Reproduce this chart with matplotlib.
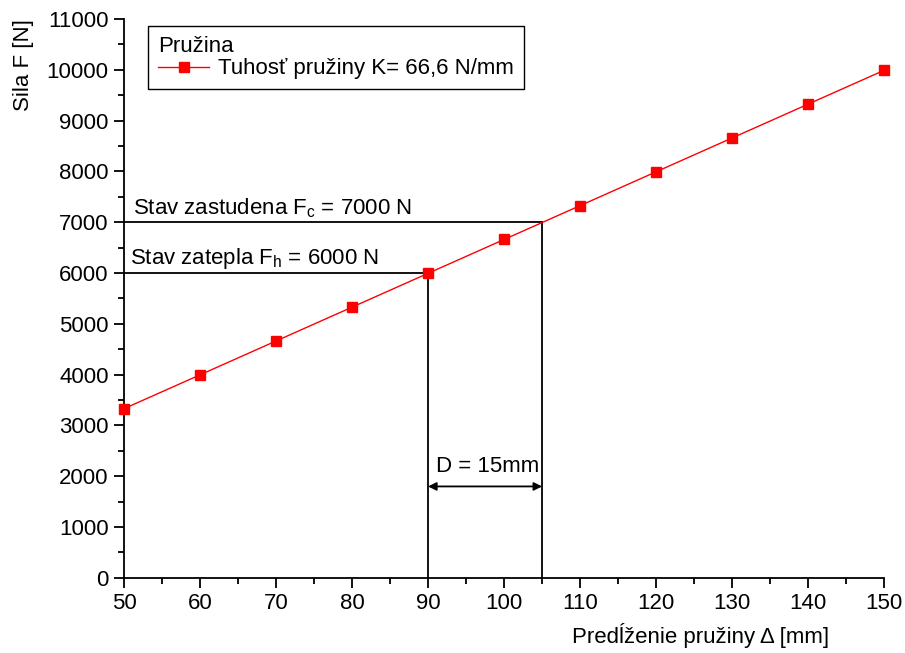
import numpy as np
import matplotlib.pyplot as plt
from matplotlib.ticker import MultipleLocator

plt.rcParams['font.family'] = ['Liberation Sans', 'DejaVu Sans']
plt.rcParams['mathtext.fontset'] = 'custom'
plt.rcParams['mathtext.rm'] = 'Liberation Sans'

# Data
elongation = [50, 60, 70, 80, 90, 100, 110, 120, 130, 140, 150]
force = [3330, 3996, 4662, 5328, 5994, 6660, 7326, 7992, 8658, 9324, 9990]

cold_force = 7000
cold_x = 105
hot_force = 6000
hot_x = 90
arrow_y = 1800

FS = 16

fig = plt.figure(figsize=(9.05, 6.53), dpi=100)
ax = fig.add_axes([0.137, 0.115, 0.840, 0.856])

ax.plot(elongation, force, color='red', linewidth=1, marker='s', markersize=7,
        label='Tuhosť pružiny K= 66,6 N/mm', clip_on=False, zorder=3)

# reference lines
ax.plot([50, cold_x], [cold_force, cold_force], color='black', linewidth=1.3)
ax.plot([cold_x, cold_x], [0, cold_force], color='black', linewidth=1.3)
ax.plot([50, hot_x], [hot_force, hot_force], color='black', linewidth=1.3)
ax.plot([hot_x, hot_x], [0, hot_force], color='black', linewidth=1.3)

ax.annotate('', xy=(hot_x, arrow_y), xytext=(cold_x, arrow_y),
            arrowprops=dict(arrowstyle='<|-|>', color='black', lw=1.3,
                            shrinkA=0, shrinkB=0, mutation_scale=12))
ax.text(91.1, 2080, 'D = 15mm', fontsize=FS, va='baseline', ha='left')
ax.text(51.2, 7150, 'Stav zastudena F$_\\mathregular{c}$ = 7000 N', fontsize=FS,
        va='baseline', ha='left')
ax.text(50.8, 6170, 'Stav zatepla F$_\\mathregular{h}$ = 6000 N', fontsize=FS,
        va='baseline', ha='left')

ax.set_xlim(50, 150)
ax.set_ylim(0, 11000)
ax.xaxis.set_major_locator(MultipleLocator(10))
ax.xaxis.set_minor_locator(MultipleLocator(5))
ax.yaxis.set_major_locator(MultipleLocator(1000))
ax.yaxis.set_minor_locator(MultipleLocator(500))
ax.tick_params(which='major', direction='out', length=7, width=1.3, labelsize=FS, pad=4)
ax.tick_params(which='minor', direction='out', length=4, width=1.3)

for side in ['top', 'right']:
    ax.spines[side].set_visible(False)
for side in ['left', 'bottom']:
    ax.spines[side].set_linewidth(1.3)

ax.set_xlabel('Predĺženie pružiny Δ [mm]', fontsize=FS)
ax.set_ylabel('Sila F [N]', fontsize=FS)
ax.xaxis.set_label_coords(0.927, -0.08)
ax.xaxis.label.set_horizontalalignment('right')
ax.yaxis.set_label_coords(-0.119, 1.0)
ax.yaxis.label.set_horizontalalignment('right')

leg = ax.legend(loc='upper left', bbox_to_anchor=(0.032, 0.987), title='Pružina',
                fontsize=FS, title_fontsize=FS, fancybox=False, edgecolor='black',
                framealpha=1, alignment='left', handlelength=2.3, borderpad=0.45,
                handletextpad=0.4, labelspacing=0.05, borderaxespad=0)
leg.get_frame().set_linewidth(1.0)

fig.savefig('out.png', dpi=100)
